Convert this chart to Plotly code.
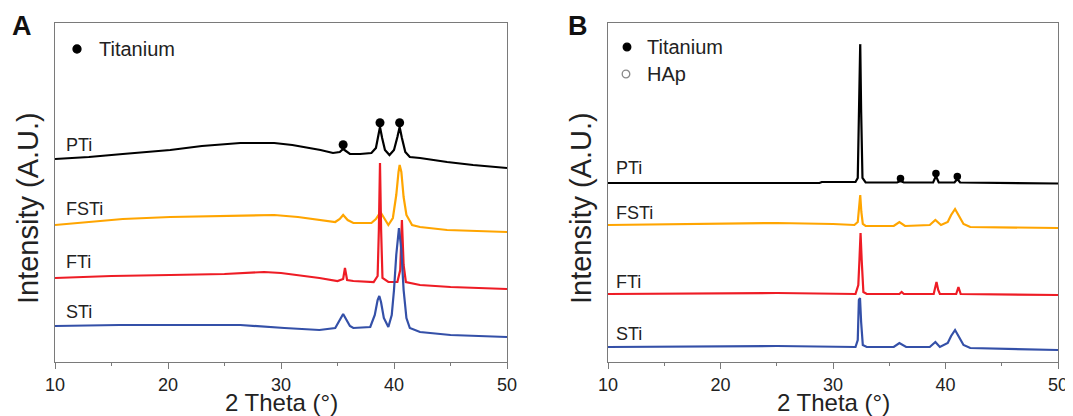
import plotly.graph_objects as go

# ---------------- data (2theta in degrees, intensity in arbitrary units) ----------------
# Panel A
A_PTi_x = [10, 13, 16, 20.2, 23, 26.4, 29.4, 31, 32.5, 33.5, 34.6, 35.2, 35.5, 35.8, 36.1, 37.0, 38.0, 38.4, 38.6, 38.76, 38.95, 39.2, 39.6, 40.0, 40.3, 40.5, 40.7, 41.0, 41.4, 42.3, 44.7, 47, 50]
A_PTi_y = [203, 205, 208, 212, 216, 219, 219, 217, 214, 212, 209, 210, 213, 210, 208, 208, 209, 214, 225, 235, 224, 212, 207, 212, 225, 235, 224, 210, 205, 204, 200, 197, 194]

A_FSTi_x = [10, 13, 16, 20.2, 25, 29.4, 31.5, 33.4, 34.8, 35.2, 35.5, 35.9, 36.4, 38.0, 38.4, 38.8, 39.1, 39.5, 39.9, 40.2, 40.4, 40.5, 40.65, 40.85, 41.1, 41.6, 42.3, 44.7, 50]
A_FSTi_y = [137, 140, 143, 145, 146, 147, 145, 142, 140, 143, 147, 142, 139, 139, 143, 150, 144, 137, 144, 167, 190, 197, 190, 165, 147, 137, 135, 132, 130]

A_FTi_x = [10, 15, 20.2, 25, 28.5, 30, 33.4, 35.0, 35.5, 35.66, 35.85, 36.4, 38.2, 38.55, 38.66, 38.76, 38.86, 38.98, 39.5, 40.3, 40.55, 40.7, 40.85, 41.05, 42.3, 45, 50]
A_FTi_y = [84, 86, 87, 88, 90, 89, 84, 81, 83, 94, 82, 81, 80, 86, 132, 199, 132, 84, 80, 80, 92, 142, 97, 80, 77, 75, 73]

A_STi_x = [10, 15.7, 23.3, 26.4, 30.3, 33.4, 34.8, 35.2, 35.5, 35.8, 36.1, 36.4, 37.9, 38.3, 38.55, 38.7, 38.85, 39.1, 39.5, 39.8, 40.0, 40.2, 40.44, 40.65, 40.85, 41.1, 41.4, 42.3, 45, 50]
A_STi_y = [36, 37, 37, 37, 34, 32, 34, 42, 48, 42, 36, 34, 35, 47, 62, 66, 60, 44, 35, 47, 72, 107, 134, 112, 72, 44, 34, 30, 27, 25]

A_ti_peaks = [35.5, 38.76, 40.5]

# Panel B
B_PTi_x = [10, 20, 28.8, 29.0, 29.4, 32.0, 32.2, 32.32, 32.42, 32.5, 32.62, 32.9, 35.7, 36.0, 36.3, 38.9, 39.15, 39.4, 40.8, 41.05, 41.3, 50]
B_PTi_y = [179, 179, 179, 180, 180, 180, 184, 242, 319, 252, 184, 179.5, 179.5, 181, 179.5, 179.5, 186, 179.5, 179.5, 183, 179.5, 178.5]

B_FSTi_x = [10, 20, 25, 30, 31.9, 32.2, 32.32, 32.42, 32.52, 32.65, 32.9, 35.4, 35.9, 36.4, 38.6, 39.1, 39.6, 40.2, 40.5, 40.85, 41.2, 41.6, 42.2, 50]
B_FSTi_y = [137, 138, 139, 138, 137, 140, 157, 167, 150, 138, 136, 136, 140, 136, 137, 142, 137, 140, 147, 153, 146, 138, 135, 134]

B_FTi_x = [10, 25, 32.0, 32.25, 32.35, 32.45, 32.55, 32.7, 33, 35.9, 36.1, 36.3, 38.95, 39.1, 39.2, 39.35, 39.5, 40.95, 41.15, 41.35, 50]
B_FTi_y = [68, 69, 68, 77, 102, 129, 102, 70, 68, 68, 70, 68, 68, 74, 80, 72, 68, 68, 75, 68, 67]

B_STi_x = [10, 25, 32.0, 32.2, 32.3, 32.4, 32.5, 32.65, 33, 35.4, 35.9, 36.5, 38.6, 39.1, 39.5, 40.2, 40.5, 40.85, 41.2, 41.6, 42.2, 50]
B_STi_y = [15, 16, 15, 22, 62, 64, 40, 17, 15, 15, 19, 15, 15, 20, 15, 19, 26, 32, 25, 17, 14, 12]

B_ti_peaks = [36.0, 39.15, 41.05]
B_hap_peaks = [32.42]

sample_names = ["PTi", "FSTi", "FTi", "STi"]
colors = ["#000000", "#FFA500", "#EE1C25", "#3450A8"]

# ---------------- figure ----------------
# the page body has an 8px default margin, so the figure is drawn 8px smaller
OFF = 8
W, H = 1073 - OFF, 416 - OFF
FONT = "Liberation Sans, Arial, sans-serif"
TXT = "#222222"
AX = "#7a7a7a"

fig = go.Figure()

panelA = [(A_PTi_x, A_PTi_y), (A_FSTi_x, A_FSTi_y), (A_FTi_x, A_FTi_y), (A_STi_x, A_STi_y)]
panelB = [(B_PTi_x, B_PTi_y), (B_FSTi_x, B_FSTi_y), (B_FTi_x, B_FTi_y), (B_STi_x, B_STi_y)]

for (xs, ys), name, c in zip(panelA, sample_names, colors):
    fig.add_trace(go.Scatter(x=xs, y=ys, mode="lines", name=name,
                             line=dict(color=c, width=2.2), xaxis="x", yaxis="y"))
for (xs, ys), name, c in zip(panelB, sample_names, colors):
    fig.add_trace(go.Scatter(x=xs, y=ys, mode="lines", name=name,
                             line=dict(color=c, width=2.2), xaxis="x2", yaxis="y2"))


def peak_top(xs, ys, p, win=0.3):
    return max(y for x, y in zip(xs, ys) if abs(x - p) <= win)


# peak markers
fig.add_trace(go.Scatter(x=A_ti_peaks, y=[peak_top(A_PTi_x, A_PTi_y, p) + 4.2 for p in A_ti_peaks],
                         mode="markers", marker=dict(color="black", size=9), xaxis="x", yaxis="y"))
fig.add_trace(go.Scatter(x=B_ti_peaks, y=[peak_top(B_PTi_x, B_PTi_y, p) + 2.6 for p in B_ti_peaks],
                         mode="markers", marker=dict(color="black", size=7.5), xaxis="x2", yaxis="y2"))
fig.add_trace(go.Scatter(x=B_hap_peaks, y=[peak_top(B_PTi_x, B_PTi_y, p) + 3.3 for p in B_hap_peaks],
                         mode="markers", marker=dict(color="white", size=8, symbol="circle-open",
                                                     line=dict(color="#888888", width=1.3)),
                         xaxis="x2", yaxis="y2"))

# plot boxes (pixels, in the reference's coordinates)
axL, axR, bxL, bxR = 55, 507, 608, 1058
top, bot = 23, 362
px = lambda v: (v - OFF) / W
py = lambda v: 1 - (v - OFF) / H

xcommon = dict(range=[10, 50], tickvals=[10, 20, 30, 40, 50], ticks="outside", ticklen=6,
               tickwidth=1.2, tickcolor=AX, showline=True, linecolor=AX, linewidth=1.2,
               mirror=True, showgrid=False, zeroline=False, automargin=False,
               tickfont=dict(family=FONT, size=18, color=TXT),
               minor=dict(dtick=5, ticks="outside", ticklen=3, tickcolor=AX, tickwidth=1.2))
ycommon = dict(range=[0, bot - top], showline=True, linecolor=AX, linewidth=1.2, mirror=True,
               showgrid=False, zeroline=False, showticklabels=False, ticks="", automargin=False)

fig.update_layout(
    width=W, height=H, margin=dict(l=0, r=0, t=0, b=0, autoexpand=False),
    paper_bgcolor="white", plot_bgcolor="white", showlegend=False,
    xaxis=dict(domain=[px(axL), px(axR)], anchor="y", **xcommon),
    yaxis=dict(domain=[py(bot), py(top)], anchor="x", **ycommon),
    xaxis2=dict(domain=[px(bxL), px(bxR)], anchor="y2", **xcommon),
    yaxis2=dict(domain=[py(bot), py(top)], anchor="x2", **ycommon),
)

ann = []


def txt(x, y, s, size, xanchor="left", angle=0, bold=False, color=TXT):
    ann.append(dict(x=px(x), y=py(y), xref="paper", yref="paper", text=("<b>%s</b>" % s) if bold else s,
                    showarrow=False, xanchor=xanchor, yanchor="middle", textangle=angle,
                    font=dict(family=FONT, size=size, color=color)))


# panel letters
txt(22, 26, "A", 27, "center", bold=True, color="#111")
txt(578, 26, "B", 27, "center", bold=True, color="#111")
# axis titles
txt((axL + axR) / 2, 402, "2 Theta (°)", 24, "center")
txt((bxL + bxR) / 2, 402, "2 Theta (°)", 24, "center")
txt(28, 208, "Intensity (A.U.)", 29, "center", angle=-90)
txt(581, 208, "Intensity (A.U.)", 29, "center", angle=-90)
# sample labels
for name, yy in zip(sample_names, [145, 209, 262, 312]):
    txt(64, yy, name, 18)
for name, yy in zip(sample_names, [168, 213, 282, 334]):
    txt(614, yy, name, 18)
# legends
txt(97, 49, "Titanium", 20)
txt(645, 47, "Titanium", 20)
txt(645, 74, "HAp", 20)

fig.update_layout(annotations=ann)

shapes = []


def dot(cx, cy, r, fill, line):
    shapes.append(dict(type="circle", xref="paper", yref="paper",
                       x0=px(cx - r), x1=px(cx + r), y0=py(cy + r), y1=py(cy - r),
                       fillcolor=fill, line=dict(color=line, width=1.3)))


dot(77, 49, 4, "black", "black")
dot(627, 47, 3.8, "black", "black")
dot(626, 74, 3.8, "rgba(0,0,0,0)", "#888888")
fig.update_layout(shapes=shapes)

fig.write_html("out.html")
